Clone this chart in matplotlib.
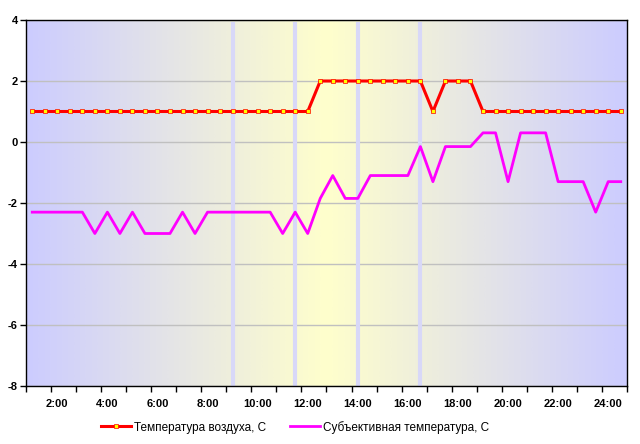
import numpy as np
import matplotlib
matplotlib.use("Agg")
import matplotlib.pyplot as plt
from matplotlib.colors import LinearSegmentedColormap

# half-hour steps, first point 1:00
hours = [1.0 + 0.5 * i for i in range(48)]

air_temp = [1] * 23 + [2] * 9 + [1] + [2] * 3 + [1] * 12

subj_temp = [-2.3, -2.3, -2.3, -2.3, -2.3, -3.0, -2.3, -3.0, -2.3, -3.0,
             -3.0, -3.0, -2.3, -3.0, -2.3, -2.3, -2.3, -2.3, -2.3, -2.3,
             -3.0, -2.3, -3.0, -1.85, -1.1, -1.85, -1.85, -1.1, -1.1, -1.1,
             -1.1, -0.15, -1.3, -0.15, -0.15, -0.15, 0.3, 0.3, -1.3, 0.3,
             0.3, 0.3, -1.3, -1.3, -1.3, -2.3, -1.3, -1.3]

band_hours = [9.0, 11.5, 14.0, 16.5]
tick_labels = ["%d:00" % h for h in range(2, 25, 2)]

plt.rcParams['font.family'] = ['Liberation Sans', 'DejaVu Sans']

fig = plt.figure(figsize=(6.4, 4.44), dpi=100)
ax = fig.add_axes([26 / 640, 58 / 444, 601 / 640, 366 / 444])

x0, x1 = 0.75, 24.75
y0, y1 = -8, 4

# horizontal gradient lavender -> pale yellow -> lavender
cmap = LinearSegmentedColormap.from_list("bg", ["#ccccff", "#ffffcc", "#ccccff"])
grad = np.linspace(0, 1, 512).reshape(1, -1)
ax.imshow(grad, cmap=cmap, extent=[x0, x1, y0, y1], aspect="auto", zorder=0,
          interpolation="bilinear")

for b in band_hours:
    ax.plot([b, b], [y0, y1 - 0.05], color="#d8d8f8", lw=3, zorder=1,
            solid_capstyle="butt")

ax.grid(axis="y", color="#c0c0c0", lw=1, zorder=1)
ax.set_axisbelow(True)

ax.plot(hours, air_temp, color="red", lw=2.2, marker="s", markersize=2.6,
        mfc="yellow", mec="red", mew=0.5, zorder=3,
        label="Температура воздуха, С")
ax.plot(hours, subj_temp, color="#ff00ff", lw=2.0, zorder=3,
        label="Субъективная температура, С")

ax.set_xlim(x0, x1)
ax.set_ylim(y0, y1)

ax.set_yticks(range(-8, 5, 2))
ax.set_yticklabels([str(v) for v in range(-8, 5, 2)], fontweight="bold", fontsize=8)
ax.tick_params(axis="y", direction="out", length=4, width=1, pad=2)

ax.set_xticks(range(2, 25, 2))
ax.set_xticklabels(tick_labels, fontweight="bold", fontsize=8)
ax.set_xticks(np.arange(0.75, 24.8, 1.0), minor=True)
ax.tick_params(axis="x", which="major", length=0, pad=9.5)
ax.tick_params(axis="x", which="minor", direction="out", length=4, width=1)

for s in ax.spines.values():
    s.set_color("black")
    s.set_linewidth(1)
    s.set_zorder(4)

fig.legend(loc="center", bbox_to_anchor=(0.461, 0.038), ncol=2, frameon=False,
           fontsize=8.5, handlelength=2.5, columnspacing=2.1, handletextpad=0.25)

fig.savefig("out.png", dpi=100)
